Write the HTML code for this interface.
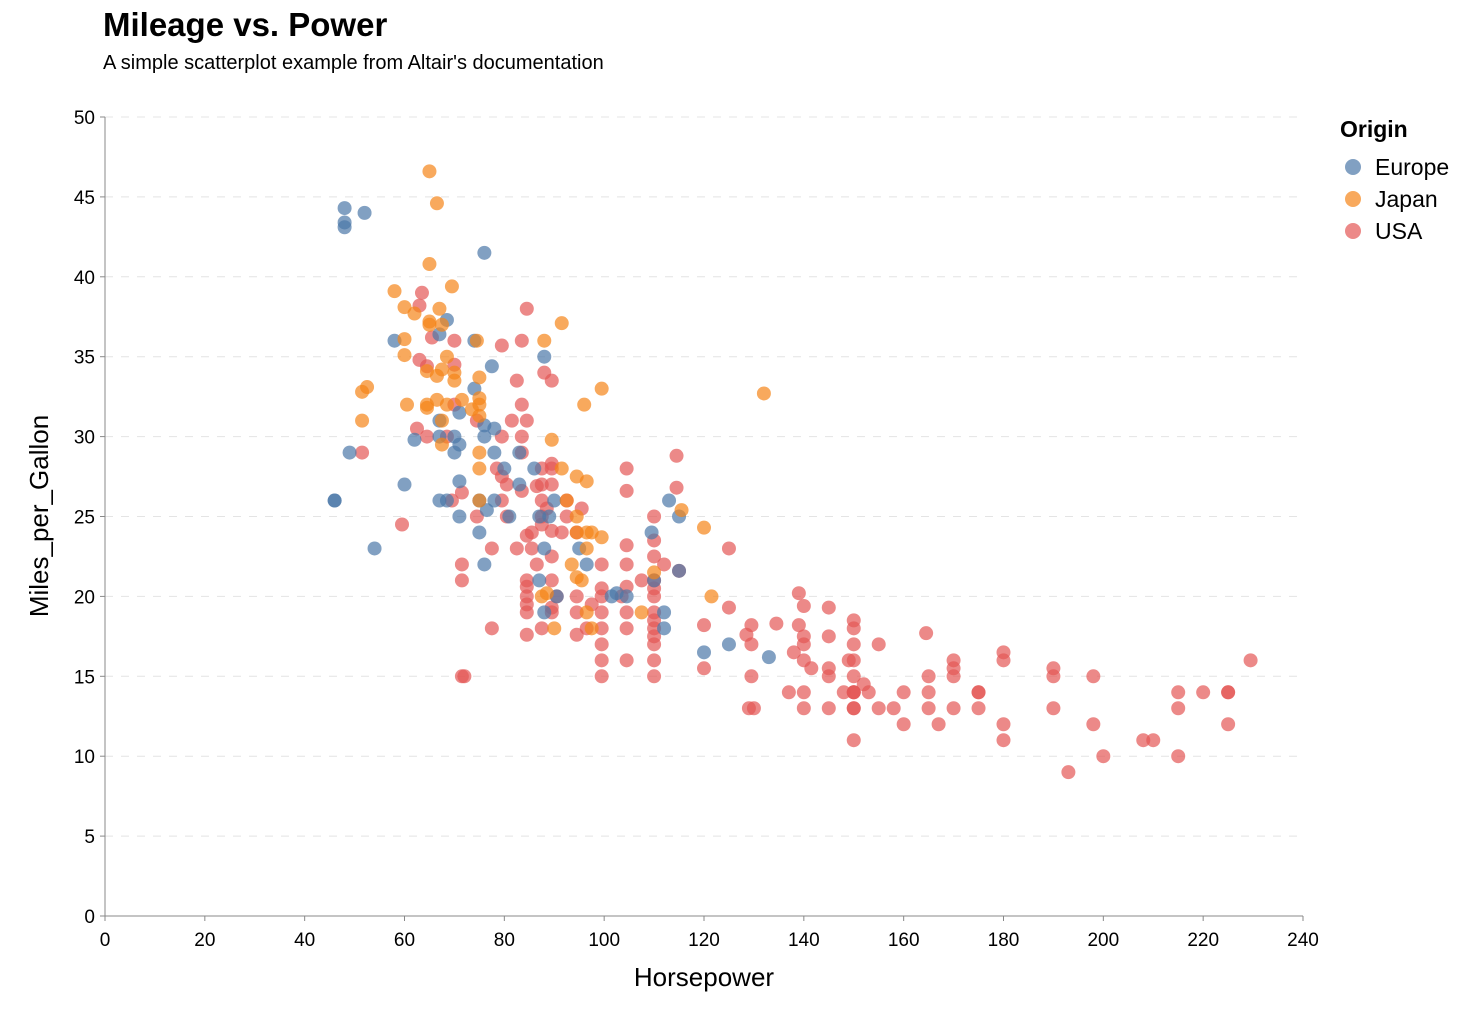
<!DOCTYPE html>
<html><head><meta charset="utf-8"><style>
body{margin:0;background:#fff;width:1474px;height:1022px;overflow:hidden}
svg{display:block;font-family:"Liberation Sans",sans-serif}
</style></head><body>
<svg id="chart" width="1474" height="1022">
<text x="103" y="36" font-size="33" font-weight="bold">Mileage vs. Power</text>
<text x="103" y="69" font-size="20">A simple scatterplot example from Altair's documentation</text>
<g id="grid"></g>
<g id="axes"></g>
<g id="marks"></g>
<text x="704" y="986" font-size="26" text-anchor="middle">Horsepower</text>
<text transform="translate(48,516) rotate(-90)" font-size="26" text-anchor="middle">Miles_per_Gallon</text>
<g>
<text x="1340" y="137" font-size="23" font-weight="bold">Origin</text>
<g><circle cx="1353" cy="167" r="8" fill="#4c78a8" opacity="0.7"/><text x="1375" y="175" font-size="23">Europe</text></g>
<g><circle cx="1353" cy="199" r="8" fill="#f58518" opacity="0.7"/><text x="1375" y="207" font-size="23">Japan</text></g>
<g><circle cx="1353" cy="231" r="8" fill="#e45756" opacity="0.7"/><text x="1375" y="239" font-size="23">USA</text></g>
</g>
</svg>
<script>
const xTicks=[0,20,40,60,80,100,120,140,160,180,200,220,240];
const yTicks=[0,5,10,15,20,25,30,35,40,45,50];
const europeHP=[46,48,48,48,52,49,54,58,60,62,67,67,67,67,68.5,68.5,70,70,71,71,71,71,74,74,75,75,76,76,76,76,76.5,77.5,78,78,78,80,81,83,83,86,87,87,88,88,88,89,90,90.5,95,96.5,101.5,102.5,104.5,109.5,110,112,112,113,115,115,120,125,133,46];
const europeMPG=[26,44.3,43.4,43.1,44,29,23,36,27,29.8,31,30,26,36.4,37.3,26,30,29,31.5,29.5,27.2,25,33,36,24,26,41.5,30,30.7,22,25.4,34.4,30.5,29,26,28,25,29,27,28,25,21,35,23,19,25,26,20,23,22,20,20.2,20,24,21,19,18,26,25,21.6,16.5,17,16.2,26];
const japanHP=[65,66.5,65,69.5,58,60,67,62,65,65,67.5,91.5,60,74.5,88,60,68.5,64.5,67.5,70,66.5,70,75,99.5,132,52.5,51.5,64.5,66.5,60.5,64.5,68.5,75,75,96,71.5,73.5,67.5,51.5,75,67.5,89.5,75,75,91.5,96.5,94.5,75,92.5,115.5,94.5,120,94.5,96.5,97.5,99.5,96.5,93.5,94.5,95.5,110,121.5,87.5,88.5,96.5,107.5,90,97.5];
const japanMPG=[46.6,44.6,40.8,39.4,39.1,38.1,38,37.7,37.2,37,37,37.1,36.1,36,36,35.1,35,34.1,34.2,34,33.8,33.5,33.7,33,32.7,33.1,32.8,32,32.3,32,31.8,32,32.4,32,32,32.3,31.7,31,31,31.3,29.5,29.8,29,28,28,27.2,27.5,26,26,25.4,25,24.3,24,24,24,23.7,23,22,21.2,21,21.5,20,20,20.2,19,19,18,18];
const usaHP=[
63.5,63,84.5,65.5,70,83.5,79.5,88,89.5,82.5,63,64.5,70,
70,83.5,62.5,64.5,68.5,79.5,83.5,84.5,81.5,74.5,51.5,83.5,114.5,
104.5,78.5,87.5,89.5,89.5,79.5,87.5,89.5,80.5,86.5,83.5,104.5,114.5,71.5,
69.5,79.5,92.5,87.5,95.5,88.5,87.5,92.5,110,80.5,74.5,59.5,87.5,89.5,
94.5,91.5,85.5,110,84.5,104.5,125,77.5,82.5,85.5,89.5,110,
99.5,104.5,112,71.5,86.5,115,110,89.5,84.5,71.5,107.5,84.5,104.5,99.5,110,
103.5,99.5,110,90.5,84.5,94.5,139,97.5,84.5,140,145,125,89.5,
99.5,104.5,110,94.5,89.5,84.5,150,110,120,129.5,139,134.5,
150,104.5,99.5,87.5,77.5,110,96.5,94.5,84.5,128.5,140,145,110,164.5,
99.5,110,129.5,140,150,155,180,138,
99.5,104.5,110,140,149,150,170,180,229.5,
120,141.5,145,170,190,
99.5,110,129.5,145,150,165,170,190,198,71.5,72,152,
137,140,148,150,153,160,165,175,215,220,225,150,150,175,225,
129,130,140,145,150,155,158,165,170,175,190,215,150,
160,167,180,198,225,150,180,208,210,200,215,193];
const usaMPG=[
39,38.2,38,36.2,36,36,35.7,34,33.5,33.5,34.8,34.4,34.5,
32,32,30.5,30,30,30,30,31,31,31,29,29,28.8,
28,28,28,28,28.3,27.5,27,27,27,26.9,26.6,26.6,26.8,26.5,
26,26,26,26,25.5,25.5,25,25,25,25,25,24.5,24.5,24.1,
24,24,24,23.5,23.8,23.2,23,23,23,23,22.5,22.5,
22,22,22,22,22,21.6,21,21,21,21,21,20.6,20.6,20.5,20.5,
20,20,20,20,20,20,20.2,19.5,19.5,19.4,19.3,19.3,19.3,
19,19,19,19,19,19,18.5,18.5,18.2,18.2,18.2,18.3,
18,18,18,18,18,18,18,17.6,17.6,17.6,17.5,17.5,17.5,17.7,
17,17,17,17,17,17,16.5,16.5,
16,16,16,16,16,16,16,16,16,
15.5,15.5,15.5,15.5,15.5,
15,15,15,15,15,15,15,15,15,15,15,14.5,
14,14,14,14,14,14,14,14,14,14,14,14,14,14,14,
13,13,13,13,13,13,13,13,13,13,13,13,13,
12,12,12,12,12,11,11,11,11,10,10,9];
const NS="http://www.w3.org/2000/svg";
const x0=105,x1=1303,y0=916,y1=117;
function xs(v){return x0+(v-0)/(240-0)*(x1-x0);}
function ys(v){return y0-(v-0)/(50-0)*(y0-y1);}
function mk(tag,attrs,parent){const e=document.createElementNS(NS,tag);for(const k in attrs)e.setAttribute(k,attrs[k]);parent.appendChild(e);return e;}
const grid=document.getElementById('grid'),axes=document.getElementById('axes'),marks=document.getElementById('marks');
yTicks.forEach(t=>{
  if(t>0){const g=mk('line',{x1:x0,x2:x1,y1:ys(t),y2:ys(t),stroke:'#e4e4e4','stroke-dasharray':'8,8','stroke-width':1},grid);
  
  }
  const tk=mk('line',{x1:x0-5,x2:x0,y1:ys(t),y2:ys(t),stroke:'#888'},axes);
  
  
  const lb=mk('text',{x:x0-10,y:ys(t)+7,'font-size':19,'text-anchor':'end',fill:'#000'},axes);
  lb.textContent=t;
  
  
});
xTicks.forEach(t=>{
  const tk=mk('line',{x1:xs(t),x2:xs(t),y1:y0,y2:y0+5,stroke:'#888'},axes);
  
  
  const lb=mk('text',{x:xs(t),y:y0+30,'font-size':19,'text-anchor':'middle',fill:'#000'},axes);
  lb.textContent=t;
  
  
});
const xa=mk('line',{x1:x0,x2:x1,y1:y0,y2:y0,stroke:'#888'},axes);


const ya=mk('line',{x1:x0,x2:x0,y1:y0,y2:y1,stroke:'#888'},axes);


function plot(hp,mpg,color,name){
  for(let i=0;i<Math.min(hp.length,mpg.length);i++){
    const c=mk('circle',{cx:xs(hp[i]),cy:ys(mpg[i]),r:7,fill:color,opacity:0.7},marks);
    
    
  }
}
plot(usaHP,usaMPG,'#e45756','point-usa');
plot(europeHP,europeMPG,'#4c78a8','point-europe');
plot(japanHP,japanMPG,'#f58518','point-japan');
</script>
</body></html>
